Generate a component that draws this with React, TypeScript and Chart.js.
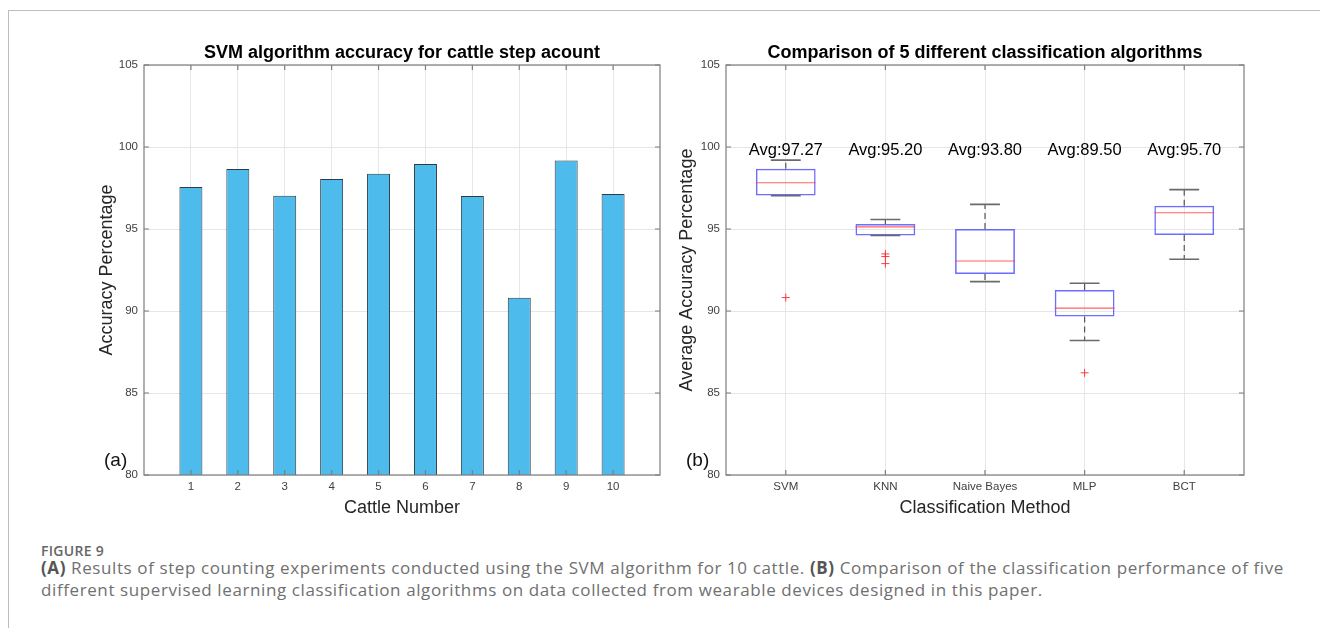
import React, { useEffect, useRef } from 'react';
import { Chart, registerables } from 'chart.js';

Chart.register(...registerables);

const FONT = '"Liberation Sans", Arial, Helvetica, sans-serif';

// ---------- Panel (a): SVM accuracy per cattle ----------
const cattleNumbers = [1, 2, 3, 4, 5, 6, 7, 8, 9, 10];
const cattleAccuracy = [97.56, 98.66, 97.03, 98.05, 98.37, 98.96, 97.01, 90.81, 99.17, 97.13];

// ---------- Panel (b): box plots of 5 classifiers ----------
const methods = ['SVM', 'KNN', 'Naive Bayes', 'MLP', 'BCT'];
const methodAvgLabels = ['Avg:97.27', 'Avg:95.20', 'Avg:93.80', 'Avg:89.50', 'Avg:95.70'];
const boxQ1 = [97.05, 94.6, 92.26, 89.66, 94.64];
const boxMedian = [97.82, 95.13, 93.05, 90.18, 95.99];
const boxQ3 = [98.68, 95.3, 95.0, 91.28, 96.42];
const whiskerLow = [97.03, 94.6, 91.79, 88.2, 93.16];
const whiskerHigh = [99.2, 95.58, 96.5, 91.69, 97.4];
const outlierMethod = [1, 2, 2, 2, 4];
const outlierValues = [90.82, 93.48, 93.32, 92.89, 86.23];

const yTicks = [80, 85, 90, 95, 100, 105];
const avgLabelLevel = 100;

const GRID = '#e6e6e6';
const AXIS = '#7d7d7d';

function framePlugin(title: string, panelLabel: string) {
  return {
    id: 'frame_' + panelLabel,
    afterDatasetsDraw(chart: any) {
      const { ctx, chartArea } = chart;
      const { left, right, top, bottom } = chartArea;
      const x = chart.scales.x;
      const y = chart.scales.y;
      ctx.save();
      ctx.strokeStyle = AXIS;
      ctx.lineWidth = 1.2;
      ctx.strokeRect(left, top, right - left, bottom - top);
      const L = 5;
      ctx.beginPath();
      x.ticks.forEach((t: any) => {
        const px = x.getPixelForValue(t.value);
        ctx.moveTo(px, bottom);
        ctx.lineTo(px, bottom - L);
        ctx.moveTo(px, top);
        ctx.lineTo(px, top + L);
      });
      y.ticks.forEach((t: any) => {
        const py = y.getPixelForValue(t.value);
        ctx.moveTo(left, py);
        ctx.lineTo(left + L, py);
        ctx.moveTo(right, py);
        ctx.lineTo(right - L, py);
      });
      ctx.stroke();

      // title
      ctx.fillStyle = '#000';
      ctx.font = `bold 18px ${FONT}`;
      ctx.textAlign = 'center';
      ctx.textBaseline = 'middle';
      ctx.fillText(title, (left + right) / 2, top - 12);

      // panel label
      ctx.font = `19px ${FONT}`;
      ctx.textAlign = 'left';
      ctx.fillStyle = '#111';
      ctx.fillText(panelLabel, left - 40, y.getPixelForValue(80) - 14);
      ctx.restore();
    },
  };
}

const boxDecorPlugin = {
  id: 'boxDecor',
  afterDatasetsDraw(chart: any) {
    const { ctx } = chart;
    const x = chart.scales.x;
    const y = chart.scales.y;
    ctx.save();
    methods.forEach((_, i) => {
      const cx = x.getPixelForValue(i + 1);
      const halfBox = x.getPixelForValue(1.3) - x.getPixelForValue(1);
      const halfCap = halfBox / 2;
      const pQ1 = y.getPixelForValue(boxQ1[i]);
      const pQ3 = y.getPixelForValue(boxQ3[i]);
      const pLo = y.getPixelForValue(whiskerLow[i]);
      const pHi = y.getPixelForValue(whiskerHigh[i]);
      const pMed = y.getPixelForValue(boxMedian[i]);

      // whiskers (dashed)
      ctx.strokeStyle = '#555';
      ctx.lineWidth = 1.2;
      ctx.setLineDash([6, 4]);
      ctx.beginPath();
      if (pHi < pQ3 - 0.5) {
        ctx.moveTo(cx, pQ3);
        ctx.lineTo(cx, pHi);
      }
      if (pLo > pQ1 + 0.5) {
        ctx.moveTo(cx, pQ1);
        ctx.lineTo(cx, pLo);
      }
      ctx.stroke();
      ctx.setLineDash([]);

      // caps
      ctx.strokeStyle = '#6a6a6a';
      ctx.lineWidth = 1.6;
      ctx.beginPath();
      ctx.moveTo(cx - halfCap, pHi);
      ctx.lineTo(cx + halfCap, pHi);
      ctx.moveTo(cx - halfCap, pLo);
      ctx.lineTo(cx + halfCap, pLo);
      ctx.stroke();

      // median
      ctx.strokeStyle = 'rgba(255,70,70,0.85)';
      ctx.lineWidth = 1.2;
      ctx.beginPath();
      ctx.moveTo(cx - halfBox, pMed);
      ctx.lineTo(cx + halfBox, pMed);
      ctx.stroke();

      // average label
      ctx.fillStyle = '#000';
      ctx.font = `16.5px ${FONT}`;
      ctx.textAlign = 'center';
      ctx.textBaseline = 'middle';
      ctx.fillText(methodAvgLabels[i], cx, y.getPixelForValue(avgLabelLevel) + 3);
    });
    ctx.restore();
  },
};

function commonY(width: number, titleText: string, titlePadTop: number) {
  return {
    type: 'linear',
    min: 80,
    max: 105,
    afterBuildTicks: (s: any) => {
      s.ticks = yTicks.map((v) => ({ value: v }));
    },
    afterFit: (s: any) => {
      s.width = width;
    },
    grid: { color: GRID, drawTicks: false, lineWidth: 1 },
    border: { display: false },
    ticks: {
      padding: 6,
      font: { family: FONT, size: 11.5 },
      color: '#404040',
    },
    title: {
      display: true,
      text: titleText,
      font: { family: FONT, size: 18 },
      color: '#262626',
      padding: { top: titlePadTop, bottom: 0 },
    },
  };
}

function commonX(min: number, max: number, values: number[], labels: string[], titleText: string) {
  return {
    type: 'linear',
    min,
    max,
    offset: false,
    afterBuildTicks: (s: any) => {
      s.ticks = values.map((v) => ({ value: v }));
    },
    afterFit: (s: any) => {
      s.height = 55;
    },
    grid: { color: GRID, drawTicks: false, lineWidth: 1, offset: false },
    border: { display: false },
    ticks: {
      padding: 5,
      autoSkip: false,
      maxRotation: 0,
      font: { family: FONT, size: 11.5 },
      color: '#404040',
      callback: (_v: any, idx: number) => labels[idx],
    },
    title: {
      display: true,
      text: titleText,
      font: { family: FONT, size: 18 },
      color: '#262626',
      padding: { top: 0, bottom: 11.5 },
    },
  };
}

export default function App() {
  const leftRef = useRef<HTMLCanvasElement>(null);
  const rightRef = useRef<HTMLCanvasElement>(null);

  useEffect(() => {
    const left = new Chart(leftRef.current as HTMLCanvasElement, {
      type: 'bar',
      data: {
        datasets: [
          {
            data: cattleNumbers.map((n, i) => ({ x: n, y: cattleAccuracy[i] })),
            backgroundColor: '#4DBBEB',
            borderColor: '#2c3b44',
            borderWidth: 1,
            borderSkipped: false,
            barPercentage: 0.49,
            categoryPercentage: 1,
          } as any,
        ],
      },
      options: {
        responsive: false,
        animation: false,
        layout: { padding: { top: 65, right: 5, left: 0, bottom: 0 } },
        plugins: { legend: { display: false }, tooltip: { enabled: false } },
        scales: {
          x: commonX(0, 11, cattleNumbers, cattleNumbers.map(String), 'Cattle Number') as any,
          y: commonY(144, 'Accuracy Percentage', 96) as any,
        },
      },
      plugins: [framePlugin('SVM algorithm accuracy for cattle step acount', '(a)')],
    });

    const right = new Chart(rightRef.current as HTMLCanvasElement, {
      type: 'bar',
      data: {
        datasets: [
          {
            type: 'bar',
            data: methods.map((_, i) => ({ x: i + 1, y: [boxQ1[i], boxQ3[i]] })),
            backgroundColor: 'rgba(0,0,0,0)',
            borderColor: 'rgba(60,60,255,0.75)',
            borderWidth: 1.5,
            borderSkipped: false,
            barPercentage: 0.6,
            categoryPercentage: 1,
          } as any,
          {
            type: 'scatter',
            data: outlierValues.map((v, i) => ({ x: outlierMethod[i], y: v })),
            pointStyle: 'cross',
            pointRadius: 4,
            borderColor: 'rgba(255,40,40,0.9)',
            borderWidth: 1,
            backgroundColor: 'rgba(255,40,40,0.9)',
          } as any,
        ],
      },
      options: {
        responsive: false,
        animation: false,
        layout: { padding: { top: 65, right: 76, left: 0, bottom: 0 } },
        plugins: { legend: { display: false }, tooltip: { enabled: false } },
        scales: {
          x: commonX(0.4, 5.6, [1, 2, 3, 4, 5], methods, 'Classification Method') as any,
          y: commonY(61, 'Average Accuracy Percentage', 11.5) as any,
        },
      },
      plugins: [boxDecorPlugin, framePlugin('Comparison of 5 different classification algorithms', '(b)')],
    });

    return () => {
      left.destroy();
      right.destroy();
    };
  }, []);

  const captionFont = '"Open Sans", "Noto Sans", sans-serif';

  return (
    <div style={{ position: 'absolute', left: 0, top: 0, width: 1320, height: 628, background: '#fff', overflow: 'hidden' }}>
      <div
        style={{
          position: 'absolute',
          left: 8,
          top: 10,
          width: 1312,
          height: 618,
          borderTop: '1px solid #bdbdbd',
          borderLeft: '1px solid #bdbdbd',
        }}
      />
      <canvas ref={leftRef} width={665} height={530} style={{ position: 'absolute', left: 0, top: 0, width: 665, height: 530 }} />
      <canvas ref={rightRef} width={655} height={530} style={{ position: 'absolute', left: 665, top: 0, width: 655, height: 530 }} />
      <div
        style={{
          position: 'absolute',
          left: 41,
          top: 543,
          fontFamily: captionFont,
          fontSize: 14,
          lineHeight: '16px',
          fontWeight: 600,
          letterSpacing: '0.3px',
          color: '#666',
          whiteSpace: 'nowrap',
        }}
      >
        FIGURE 9
      </div>
      <div
        style={{
          position: 'absolute',
          left: 41,
          top: 557,
          fontFamily: captionFont,
          fontSize: 17,
          lineHeight: '22px',
          letterSpacing: '0.6px',
          color: '#707070',
          whiteSpace: 'nowrap',
        }}
      >
        <b style={{ color: '#555' }}>(A)</b> Results of step counting experiments conducted using the SVM algorithm for 10 cattle.{' '}
        <b style={{ color: '#555' }}>(B)</b> Comparison of the classification performance of five
        <br />
        different supervised learning classification algorithms on data collected from wearable devices designed in this paper.
      </div>
    </div>
  );
}
